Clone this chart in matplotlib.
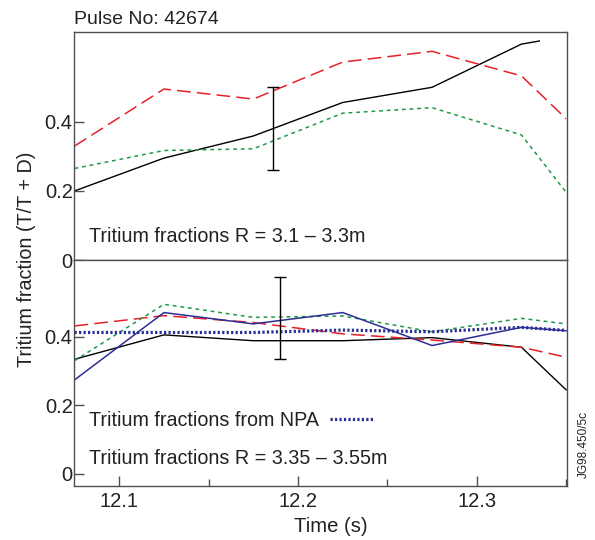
import numpy as np
import matplotlib
matplotlib.use("Agg")
import matplotlib.pyplot as plt
from matplotlib.ticker import MultipleLocator

plt.rcParams['font.family'] = ['Liberation Sans', 'DejaVu Sans']

# time base of the profile points
t = [12.075, 12.125, 12.175, 12.225, 12.275, 12.325, 12.35]
t_black_top = [12.075, 12.125, 12.175, 12.225, 12.275, 12.325, 12.335]

# upper panel: R = 3.1 - 3.3 m
top_black = [0.200, 0.295, 0.359, 0.456, 0.500, 0.625, 0.634]
top_red = [0.330, 0.495, 0.466, 0.573, 0.604, 0.533, 0.409]
top_green = [0.265, 0.317, 0.322, 0.425, 0.441, 0.362, 0.196]
top_err_t, top_err_y, top_err_h = 12.186, 0.381, 0.119

# lower panel: R = 3.35 - 3.55 m
bot_black = [0.334, 0.405, 0.388, 0.388, 0.397, 0.369, 0.245]
bot_red = [0.431, 0.461, 0.441, 0.408, 0.390, 0.369, 0.340]
bot_green = [0.330, 0.494, 0.456, 0.460, 0.414, 0.453, 0.437]
bot_blue = [0.274, 0.470, 0.437, 0.470, 0.374, 0.427, 0.417]
npa = [0.412, 0.412, 0.412, 0.419, 0.414, 0.427, 0.418]
bot_err_t, bot_err_y, bot_err_h = 12.19, 0.455, 0.119

RED = '#e62129'
GREEN = '#1c9a48'
BLUE = '#2b2f93'
SPINE = '#505050'
TXT = '#222222'

fig = plt.figure(figsize=(5.95, 5.4), dpi=100)
ax1 = fig.add_axes([0.1244, 0.5185, 0.8286, 0.4222])
ax2 = fig.add_axes([0.1244, 0.1000, 0.8286, 0.4185])

for ax in (ax1, ax2):
	ax.set_xlim(12.0747, 12.3505)
	for s in ax.spines.values():
		s.set_color(SPINE)
		s.set_linewidth(1.0)
	ax.tick_params(direction='in', length=7, width=1, color=SPINE, labelsize=14.5, pad=1, labelcolor=TXT)
	ax.tick_params(which='minor', direction='in', length=5, width=1, color=SPINE)
	ax.xaxis.set_major_locator(MultipleLocator(0.1))
	ax.xaxis.set_minor_locator(MultipleLocator(0.05))
	ax.yaxis.set_major_formatter(plt.FuncFormatter(lambda v, p: '0' if abs(v) < 1e-9 else f'{v:.1f}'))

ax1.set_ylim(0, 0.66)
ax1.set_yticks([0, 0.2, 0.4])
ax1.tick_params(axis='x', which='both', bottom=False, labelbottom=False)
ax2.set_ylim(-0.035, 0.623)
ax2.set_yticks([0, 0.2, 0.4])
ax2.tick_params(axis='x', pad=4)

# upper panel
ax1.plot(t_black_top, top_black, color='black', lw=1.0)
ax1.plot(t, top_red, color=RED, lw=1.1, dashes=(9, 4))
ax1.plot(t, top_green, color=GREEN, lw=1.1, dashes=(2.5, 2.5))
ax1.errorbar(top_err_t, top_err_y, yerr=top_err_h, color='black', lw=1.0, capsize=4.5, capthick=1.0)
ax1.text(0.03, 0.08, 'Tritium fractions R = 3.1 \u2013 3.3m', transform=ax1.transAxes, fontsize=14.2, color=TXT)
fig.text(0.1244, 0.948, 'Pulse No: 42674', fontsize=14, ha='left', va='bottom', color=TXT)

# lower panel
ax2.plot(t, bot_black, color='black', lw=1.0)
ax2.plot(t, bot_red, color=RED, lw=1.1, dashes=(9, 4))
ax2.plot(t, bot_green, color=GREEN, lw=1.1, dashes=(2.5, 2.5))
ax2.plot(t, bot_blue, color=BLUE, lw=1.1)
ax2.plot(t, npa, color=BLUE, lw=2.3, dashes=(0.7, 0.7))
ax2.errorbar(bot_err_t, bot_err_y, yerr=bot_err_h, color='black', lw=1.0, capsize=4.5, capthick=1.0)
ax2.text(0.03, 0.265, 'Tritium fractions from NPA', transform=ax2.transAxes, fontsize=14.2, color=TXT)
ax2.plot([0.519, 0.609], [0.295, 0.295], transform=ax2.transAxes, color=BLUE, lw=2.3, dashes=(0.7, 0.7))
ax2.text(0.03, 0.098, 'Tritium fractions R = 3.35 \u2013 3.55m', transform=ax2.transAxes, fontsize=14.2, color=TXT)

ax2.set_xlabel('Time (s)', fontsize=14.6, color=TXT)
ax2.xaxis.set_label_coords(0.52, -0.135)
ax2.xaxis.label.set_va('top')
fig.text(0.045, 0.519, 'Tritium fraction (T/T + D)', rotation=90, fontsize=14.2, ha='center', va='center', color=TXT)
fig.text(0.982, 0.115, 'JG98.450/5c', rotation=90, fontsize=8.5, ha='center', va='bottom', color=TXT)

fig.savefig('out.png', dpi=100)
